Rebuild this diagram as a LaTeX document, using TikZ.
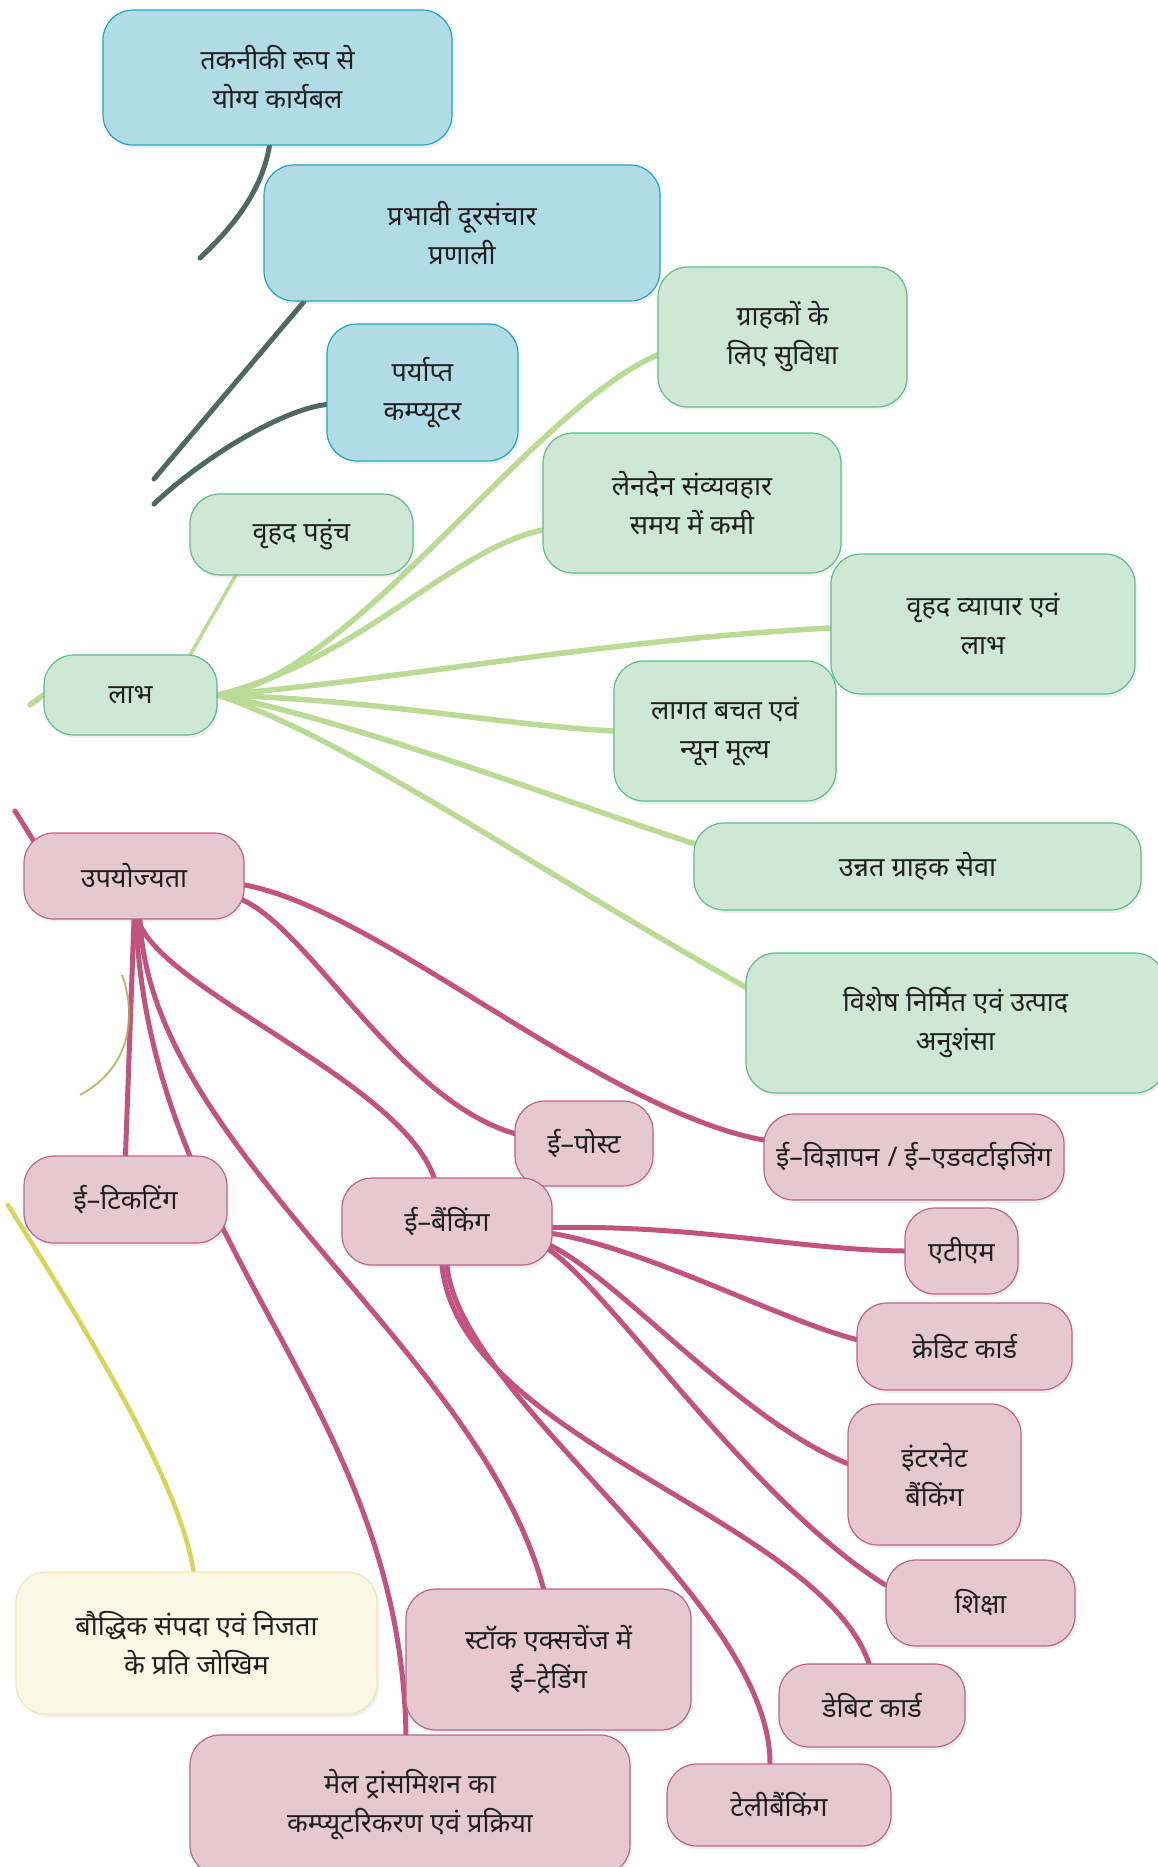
\documentclass[tikz,border=0pt]{standalone}
\usepackage{fontspec}
\setmainfont{Noto Sans}[Script=Devanagari]
\usetikzlibrary{calc,shadows}
\definecolor{bfill}{HTML}{B1DCE7}
\definecolor{bdraw}{HTML}{1EA5C4}
\definecolor{gfill}{HTML}{CFE7D5}
\definecolor{gdraw}{HTML}{5DBE8C}
\definecolor{pfill}{HTML}{E6C8D1}
\definecolor{pdraw}{HTML}{C0628A}
\definecolor{yfill}{HTML}{FAF7E5}
\definecolor{ydraw}{HTML}{F1E9B5}
\definecolor{glinec}{HTML}{B9DB93}
\definecolor{plinec}{HTML}{C4527F}
\definecolor{dlinec}{HTML}{4E6862}
\definecolor{ylinec}{HTML}{D9D458}
\definecolor{olinec}{HTML}{B5A552}
\pgfdeclarelayer{bg}
\pgfsetlayers{bg,main}
\tikzset{
  box/.style={rounded corners=30pt, line width=1.2pt, align=center, inner sep=0pt,
    font=\fontsize{27}{39}\selectfont, text=black!88,
    drop shadow={shadow xshift=2pt, shadow yshift=-3pt, opacity=0.12}},
  bluebox/.style={box, fill=bfill, draw=bdraw},
  greenbox/.style={box, fill=gfill, draw=gdraw},
  pinkbox/.style={box, fill=pfill, draw=pdraw},
  yellowbox/.style={box, fill=yfill, draw=ydraw},
  gedge/.style={draw=glinec, line width=5.5pt, line cap=round},
  pedge/.style={draw=plinec, line width=5pt, line cap=round},
  dedge/.style={draw=dlinec, line width=5pt, line cap=round},
  yedge/.style={draw=ylinec, line width=4.5pt, line cap=round},
}
\begin{document}
\begin{tikzpicture}[x=1pt,y=-1pt]
\useasboundingbox (0,0) rectangle (1158,1867);
\clip (0,0) rectangle (1158,1867);

% blue nodes
\node[bluebox, minimum width=349pt, minimum height=135pt] (tech) at (277.5,77.5) {तकनीकी रूप से\\योग्य कार्यबल};
\node[bluebox, minimum width=396pt, minimum height=136pt] (telec) at (462,233) {प्रभावी दूरसंचार\\प्रणाली};
\node[bluebox, minimum width=191pt, minimum height=137pt] (comp) at (422.5,392.5) {पर्याप्त\\कम्प्यूटर};

% green nodes
\node[greenbox, minimum width=173pt, minimum height=80pt] (labh) at (130.5,695) {लाभ};
\node[greenbox, minimum width=223pt, minimum height=81pt] (reach) at (301.5,534.5) {वृहद पहुंच};
\node[greenbox, minimum width=249pt, minimum height=140pt] (cust) at (782.5,337) {ग्राहकों के\\लिए सुविधा};
\node[greenbox, minimum width=298pt, minimum height=140pt] (trans) at (692,503) {लेनदेन संव्यवहार\\समय में कमी};
\node[greenbox, minimum width=304pt, minimum height=140pt] (biz) at (983,624) {वृहद व्यापार एवं\\लाभ};
\node[greenbox, minimum width=222pt, minimum height=140pt] (cost) at (725,731) {लागत बचत एवं\\न्यून मूल्य};
\node[greenbox, minimum width=447pt, minimum height=87pt] (service) at (917.5,866.5) {उन्नत ग्राहक सेवा};
\node[greenbox, minimum width=419pt, minimum height=140pt] (special) at (955.5,1023) {विशेष निर्मित एवं उत्पाद\\अनुशंसा};

% pink nodes
\node[pinkbox, minimum width=220pt, minimum height=86pt] (util) at (134,876) {उपयोज्यता};
\node[pinkbox, minimum width=203pt, minimum height=87pt] (ticket) at (125.5,1199.5) {ई–टिकटिंग};
\node[pinkbox, minimum width=138pt, minimum height=85pt] (post) at (584,1143.5) {ई–पोस्ट};
\node[pinkbox, minimum width=300pt, minimum height=86pt] (adv) at (914,1157) {ई–विज्ञापन\hspace{8pt}/ ई–एडवर्टाइजिंग};
\node[pinkbox, minimum width=210pt, minimum height=87pt] (bank) at (447,1221.5) {ई–बैंकिंग};
\node[pinkbox, minimum width=113pt, minimum height=86pt] (atm) at (961.5,1251) {एटीएम};
\node[pinkbox, minimum width=215pt, minimum height=87pt] (credit) at (964.5,1346.5) {क्रेडिट कार्ड};
\node[pinkbox, minimum width=173pt, minimum height=141pt] (inet) at (934.5,1474.5) {इंटरनेट\\बैंकिंग};
\node[pinkbox, minimum width=189pt, minimum height=86pt] (edu) at (980.5,1603) {शिक्षा};
\node[pinkbox, minimum width=186pt, minimum height=83pt] (debit) at (872,1705.5) {डेबिट कार्ड};
\node[pinkbox, minimum width=224pt, minimum height=82pt] (telebank) at (779,1805) {टेलीबैंकिंग};
\node[pinkbox, minimum width=285pt, minimum height=141pt] (stock) at (548.5,1659.5) {स्टॉक एक्सचेंज में\\ई–ट्रेडिंग};
\node[pinkbox, minimum width=440pt, minimum height=140pt] (mail) at (410,1805) {मेल ट्रांसमिशन का\\कम्प्यूटरिकरण एवं प्रक्रिया};

% yellow node
\node[yellowbox, minimum width=361pt, minimum height=142pt] (risk) at (196.5,1643) {बौद्धिक संपदा एवं निजता\\के प्रति जोखिम};

% free ends
\coordinate (techend) at (200,258);
\coordinate (telecend) at (154,479);
\coordinate (compend) at (154,504);
\coordinate (labhend) at (30,705);
\coordinate (utilend) at (15,811);
\coordinate (riskend) at (8,1205);
\coordinate (arcA) at (122,975);
\coordinate (arcB) at (80,1095);

\begin{pgfonlayer}{bg}
\fill[white] (0,0) rectangle (1158,1867);
% dark connectors
\draw[dedge] ($(tech.south)+(-8,0)$) .. controls (262,190) and (235,225) .. (techend);
\draw[dedge] ($(telec.south)+(-158,0)$) -- (telecend);
\draw[dedge] ($(comp.west)+(0,12)$) .. controls (280,410) and (200,460) .. (compend);

% green connectors
\draw[gedge, line width=3.5pt] ($(labh.north)+(60,0)$) -- ($(reach.south)+(-66,0)$);
\draw[gedge] (labh.east) .. controls (350,680) and (530,410) .. ($(cust.west)+(0,18)$);
\draw[gedge] (labh.east) .. controls (360,660) and (450,550) .. ($(trans.west)+(0,27)$);
\draw[gedge] (labh.east) .. controls (400,680) and (600,640) .. ($(biz.west)+(0,4)$);
\draw[gedge] (labh.east) .. controls (380,700) and (500,725) .. (cost.west);
\draw[gedge] (labh.east) .. controls (350,720) and (560,800) .. ($(service.west)+(0,-23)$);
\draw[gedge] (labh.east) .. controls (350,740) and (520,860) .. ($(special.west)+(0,-36)$);
\draw[gedge] (labh.west) -- (labhend);

% pink connectors from util
\draw[pedge] ($(util.north west)+(10,8)$) -- (utilend);
\draw[pedge] ($(util.east)+(0,9)$) .. controls (380,910) and (600,1110) .. ($(adv.west)+(0,-17)$);
\draw[pedge] ($(util.east)+(-2,24)$) .. controls (310,930) and (400,1100) .. ($(post.west)+(0,-10)$);
\draw[pedge] ($(util.south)+(4,0)$) .. controls (160,990) and (400,1080) .. ($(bank.north)+(-13,0)$);
\draw[pedge] (util.south) -- (ticket.north);
\draw[pedge] ($(util.south)+(2,0)$) .. controls (150,1250) and (400,1400) .. ($(mail.north)+(-4,0)$);
\draw[pedge] ($(util.south)+(6,0)$) .. controls (150,1150) and (480,1350) .. ($(stock.north)+(-5,0)$);

% pink connectors from bank
\draw[pedge] ($(bank.east)+(0,6)$) .. controls (700,1225) and (800,1250) .. (atm.west);
\draw[pedge] ($(bank.east)+(0,12)$) .. controls (650,1250) and (780,1320) .. ($(credit.west)+(0,-7)$);
\draw[pedge] ($(bank.east)+(-2,24)$) .. controls (620,1280) and (740,1420) .. ($(inet.west)+(0,-11)$);
\draw[pedge] ($(bank.east)+(-4,28)$) .. controls (610,1290) and (750,1500) .. ($(edu.west)+(0,-18)$);
\draw[pedge] ($(bank.south)+(-5,0)$) .. controls (460,1440) and (820,1520) .. ($(debit.north)+(-3,0)$);
\draw[pedge] (bank.south) .. controls (460,1400) and (770,1600) .. ($(telebank.north)+(-9,0)$);

% yellow connector
\draw[yedge] ($(risk.north)+(-3,0)$) .. controls (180,1480) and (80,1320) .. (riskend);

% thin olive arc
\draw[draw=olinec, line width=2pt, opacity=0.8] (arcA) .. controls (135,1010) and (135,1065) .. (arcB);
\end{pgfonlayer}
\end{tikzpicture}
\end{document}
